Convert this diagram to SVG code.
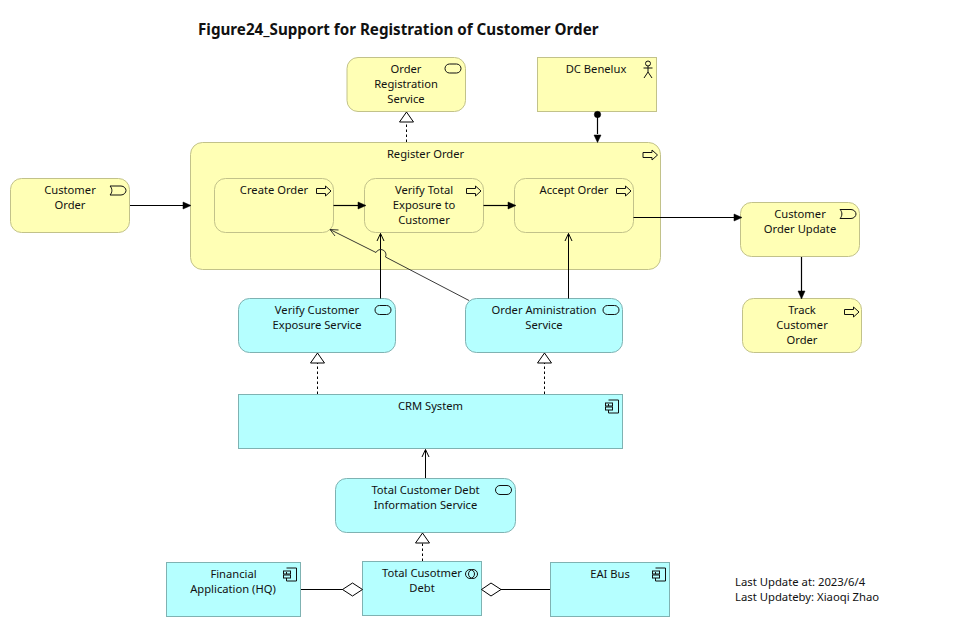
<svg xmlns="http://www.w3.org/2000/svg" xmlns:xlink="http://www.w3.org/1999/xlink" width="955" height="627" viewBox="0 0 955 627">
<style>
text{font-family:"Noto Sans","Open Sans","Liberation Sans",sans-serif;font-size:11.2px;fill:#111;text-anchor:middle}
.title{font-size:15.2px;font-weight:bold;text-anchor:start}
.note{text-anchor:start;font-size:11.3px}
.y{fill:#ffffb5;stroke:#c2c28a;stroke-width:1}
.b{fill:#b5ffff;stroke:#7fb2b2;stroke-width:1}
.ic{fill:none;stroke:#111;stroke-width:1}
.c{fill:none;stroke:#000;stroke-width:1.2}
.o{fill:none;stroke:#000;stroke-width:1}
.f{fill:none;stroke:#222;stroke-width:.9}
.d{fill:none;stroke:#000;stroke-width:1;stroke-dasharray:2.5 2.5}
.t{fill:#fff;stroke:#000;stroke-width:1}
.k{fill:#000;stroke:#000;stroke-width:.5}
</style>
<defs>
<rect id="svc" x="0" y="0" width="16" height="9" rx="4.5" class="ic"/>
<path id="proc" d="M0 2.5H9V0L14.500 5L9 10V7.500H0Z" class="ic"/>
<path id="evt" d="M0 0H11C14 0 16 2.500 16 4.500S14 9 11 9H0C2.500 6.500 2.500 2.500 0 0Z" class="ic"/>
<g id="cmp" class="ic"><path d="M3 0H13V13H3V10M3 6V4"/><rect x="0" y="3" width="7" height="3" fill="none"/><rect x="0" y="7" width="7" height="3" fill="none"/></g>
</defs>
<rect width="955" height="627" fill="#fff"/>
<text class="title" x="198" y="35">Figure24_Support for Registration of Customer Order</text>

<g id="n-register"><rect class="y" x="190.500" y="142.500" width="470" height="127" rx="12"/><text x="425.500" y="158">Register Order</text><use xlink:href="#proc" href="#proc" x="643" y="150"/></g>
<g id="n-orderreg"><rect class="y" x="347" y="57.500" width="118.500" height="54" rx="11"/><text x="406" y="73">Order</text><text x="406" y="88">Registration</text><text x="406" y="103">Service</text><use xlink:href="#svc" href="#svc" x="445" y="64"/></g>
<g id="n-dc"><rect class="y" x="537.500" y="57.500" width="119" height="54"/><text x="596" y="73">DC Benelux</text><path class="ic" d="M648 66V72M643.500 68H652.500M648 72L644 78M648 72L652 78"/><circle class="ic" cx="648" cy="63.500" r="2.500"/></g>
<g id="n-create"><rect class="y" x="214.500" y="178.500" width="119" height="54" rx="11"/><text x="274" y="194">Create Order</text><use xlink:href="#proc" href="#proc" x="316.500" y="186"/></g>
<g id="n-verify"><rect class="y" x="364.500" y="178.500" width="119" height="54" rx="11"/><text x="424" y="194">Verify Total</text><text x="424" y="209">Exposure to</text><text x="424" y="224">Customer</text><use xlink:href="#proc" href="#proc" x="466.500" y="186"/></g>
<g id="n-accept"><rect class="y" x="514.500" y="178.500" width="119" height="54" rx="11"/><text x="574" y="194">Accept Order</text><use xlink:href="#proc" href="#proc" x="616.500" y="186"/></g>
<g id="n-custorder"><rect class="y" x="10.500" y="178.500" width="119" height="54" rx="11"/><text x="70" y="194">Customer</text><text x="70" y="209">Order</text><use xlink:href="#evt" href="#evt" x="110" y="186"/></g>
<g id="n-update"><rect class="y" x="740.500" y="202.500" width="119" height="54" rx="11"/><text x="800" y="218">Customer</text><text x="800" y="233">Order Update</text><use xlink:href="#evt" href="#evt" x="840" y="209.500"/></g>
<g id="n-track"><rect class="y" x="742.500" y="298.500" width="119" height="54" rx="11"/><text x="802" y="314">Track</text><text x="802" y="329">Customer</text><text x="802" y="344">Order</text><use xlink:href="#proc" href="#proc" x="844.500" y="307"/></g>
<g id="n-verifysvc"><rect class="b" x="238.500" y="298.500" width="157" height="54" rx="11"/><text x="317" y="314">Verify Customer</text><text x="317" y="329">Exposure Service</text><use xlink:href="#svc" href="#svc" x="375" y="305.500"/></g>
<g id="n-adminsvc"><rect class="b" x="465.500" y="298.500" width="157" height="54" rx="11"/><text x="544" y="314">Order Aministration</text><text x="544" y="329">Service</text><use xlink:href="#svc" href="#svc" x="603" y="305.500"/></g>
<g id="n-crm"><rect class="b" x="238.500" y="394.500" width="384" height="54"/><text x="430.500" y="410">CRM System</text><use xlink:href="#cmp" href="#cmp" x="605.500" y="400"/></g>
<g id="n-debtsvc"><rect class="b" x="335.500" y="478.500" width="180" height="54" rx="11"/><text x="425.500" y="494">Total Customer Debt</text><text x="425.500" y="509">Information Service</text><use xlink:href="#svc" href="#svc" x="495.500" y="485.500"/></g>
<g id="n-fin"><rect class="b" x="166.500" y="562.500" width="134" height="54"/><text x="233.500" y="578">Financial</text><text x="233" y="593">Application (HQ)</text><use xlink:href="#cmp" href="#cmp" x="283.500" y="568"/></g>
<g id="n-debt"><rect class="b" x="362.500" y="561.500" width="119" height="54"/><text x="422" y="577">Total Cusotmer</text><text x="422" y="592">Debt</text><circle class="ic" cx="470" cy="574" r="4.500"/><circle class="ic" cx="473" cy="574" r="4.500"/></g>
<g id="n-eai"><rect class="b" x="550.500" y="562.500" width="119" height="54"/><text x="610" y="578">EAI Bus</text><use xlink:href="#cmp" href="#cmp" x="652.500" y="568"/></g>

<g id="connectors">
<path class="d" d="M406.500 142V122"/><path class="t" d="M406.500 112L413.500 122H399.500Z"/>
<path class="c" d="M597.500 115V134"/><circle class="k" cx="597.500" cy="114.500" r="3.200"/><path class="k" d="M597.500 142.500L594 135H601Z"/>
<path class="c" d="M130 205.500H184"/><path class="k" d="M191 205.500L183 202V209Z"/>
<path class="c" d="M333.500 205.500H359"/><path class="k" d="M366 205.500L358 202V209Z"/>
<path class="c" d="M483.500 205.500H509"/><path class="k" d="M516 205.500L508 202V209Z"/>
<path class="c" d="M633.500 217.500H735"/><path class="k" d="M742 217.500L734 214V221Z"/>
<path class="c" d="M801.500 257V292"/><path class="k" d="M801.500 299L798 291H805Z"/>
<path class="o" d="M380.500 298.500V233.500M377 241L380.500 233.500L384 241"/>
<path class="o" d="M568.500 298.500V233.500M565 241L568.500 233.500L572 241"/>
<path class="f" d="M469 300.500L385.500 257A5 5 0 0 0 376 252.500L330 229.500M338.500 230L330 229.500L335 236"/>
<path class="d" d="M317.500 394V363"/><path class="t" d="M317.500 353L324.500 363H310.500Z"/>
<path class="d" d="M544.500 394V363"/><path class="t" d="M544.500 353L551.500 363H537.500Z"/>
<path class="o" d="M425.500 478V449.500M422 457L425.500 449.500L429 457"/>
<path class="d" d="M422.500 561V543"/><path class="t" d="M422.500 533L429.500 543H415.500Z"/>
<path class="c" d="M301 589.500H343"/><path class="t" d="M342.500 589.500L352.500 583L362.500 589.500L352.500 596Z"/>
<path class="c" d="M500 589.500H550"/><path class="t" d="M481.500 589.500L491 583L501 589.500L491 596Z"/>
</g>
<text class="note" x="735" y="586">Last Update at: 2023/6/4</text>
<text class="note" x="735" y="601">Last Updateby: Xiaoqi Zhao</text>
</svg>
